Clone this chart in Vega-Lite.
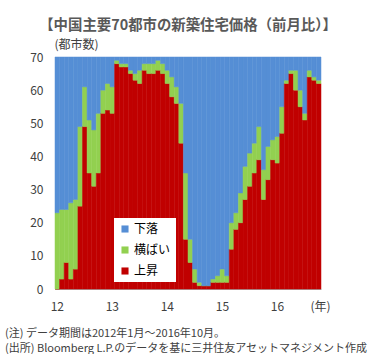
{
  "$schema": "https://vega.github.io/schema/vega-lite/v6.json",
  "autosize": {"type": "pad"},
  "padding": {"left": 5, "top": 17, "right": 0, "bottom": 0},
  "background": "white",
  "config": {"font": "Noto Sans CJK JP", "view": {"stroke": null}, "concat": {"spacing": 0}},
  "title": {
    "text": ["(注) データ期間は2012年1月～2016年10月。", "(出所) Bloomberg L.P.のデータを基に三井住友アセットマネジメント作成"],
    "orient": "bottom", "anchor": "start", "frame": "group", "dx": -50, "offset": 16,
    "fontSize": 11, "fontWeight": "normal", "color": "#404040", "lineHeight": 15
  },
  "vconcat": [
    {
      "width": 266,
      "height": 232,
      "title": {
        "text": "【中国主要70都市の新築住宅価格（前月比）】",
        "anchor": "middle", "frame": "group", "fontSize": 14.4, "fontWeight": "bold",
        "color": "#595959", "offset": 5
      },
      "data": {
        "values": [
          {"month": "2012-01", "上昇": 0, "横ばい": 23, "下落": 47},
          {"month": "2012-02", "上昇": 3, "横ばい": 21, "下落": 46},
          {"month": "2012-03", "上昇": 8, "横ばい": 16, "下落": 46},
          {"month": "2012-04", "上昇": 3, "横ばい": 23, "下落": 44},
          {"month": "2012-05", "上昇": 6, "横ばい": 21, "下落": 43},
          {"month": "2012-06", "上昇": 25, "横ばい": 24, "下落": 21},
          {"month": "2012-07", "上昇": 49, "横ばい": 12, "下落": 9},
          {"month": "2012-08", "上昇": 35, "横ばい": 16, "下落": 19},
          {"month": "2012-09", "上昇": 31, "横ばい": 17, "下落": 22},
          {"month": "2012-10", "上昇": 35, "横ばい": 18, "下落": 17},
          {"month": "2012-11", "上昇": 53, "横ばい": 7, "下落": 10},
          {"month": "2012-12", "上昇": 54, "横ばい": 8, "下落": 8},
          {"month": "2013-01", "上昇": 53, "横ばい": 8, "下落": 9},
          {"month": "2013-02", "上昇": 68, "横ばい": 1, "下落": 1},
          {"month": "2013-03", "上昇": 67, "横ばい": 1, "下落": 2},
          {"month": "2013-04", "上昇": 67, "横ばい": 1, "下落": 2},
          {"month": "2013-05", "上昇": 65, "横ばい": 1, "下落": 4},
          {"month": "2013-06", "上昇": 63, "横ばい": 2, "下落": 5},
          {"month": "2013-07", "上昇": 62, "横ばい": 4, "下落": 4},
          {"month": "2013-08", "上昇": 66, "横ばい": 2, "下落": 2},
          {"month": "2013-09", "上昇": 65, "横ばい": 3, "下落": 2},
          {"month": "2013-10", "上昇": 65, "横ばい": 3, "下落": 2},
          {"month": "2013-11", "上昇": 66, "横ばい": 3, "下落": 1},
          {"month": "2013-12", "上昇": 65, "横ばい": 3, "下落": 2},
          {"month": "2014-01", "上昇": 62, "横ばい": 4, "下落": 4},
          {"month": "2014-02", "上昇": 58, "横ばい": 6, "下落": 6},
          {"month": "2014-03", "上昇": 56, "横ばい": 5, "下落": 9},
          {"month": "2014-04", "上昇": 44, "横ばい": 12, "下落": 14},
          {"month": "2014-05", "上昇": 15, "横ばい": 20, "下落": 35},
          {"month": "2014-06", "上昇": 8, "横ばい": 7, "下落": 55},
          {"month": "2014-07", "上昇": 2, "横ばい": 4, "下落": 64},
          {"month": "2014-08", "上昇": 1, "横ばい": 1, "下落": 68},
          {"month": "2014-09", "上昇": 1, "横ばい": 0, "下落": 69},
          {"month": "2014-10", "上昇": 1, "横ばい": 0, "下落": 69},
          {"month": "2014-11", "上昇": 2, "横ばい": 1, "下落": 67},
          {"month": "2014-12", "上昇": 2, "横ばい": 2, "下落": 66},
          {"month": "2015-01", "上昇": 2, "横ばい": 4, "下落": 64},
          {"month": "2015-02", "上昇": 2, "横ばい": 2, "下落": 66},
          {"month": "2015-03", "上昇": 12, "横ばい": 8, "下落": 50},
          {"month": "2015-04", "上昇": 18, "横ばい": 5, "下落": 47},
          {"month": "2015-05", "上昇": 20, "横ばい": 9, "下落": 41},
          {"month": "2015-06", "上昇": 27, "横ばい": 10, "下落": 33},
          {"month": "2015-07", "上昇": 31, "横ばい": 10, "下落": 29},
          {"month": "2015-08", "上昇": 35, "横ばい": 9, "下落": 26},
          {"month": "2015-09", "上昇": 39, "横ばい": 10, "下落": 21},
          {"month": "2015-10", "上昇": 27, "横ばい": 9, "下落": 34},
          {"month": "2015-11", "上昇": 33, "横ばい": 10, "下落": 27},
          {"month": "2015-12", "上昇": 39, "横ばい": 6, "下落": 25},
          {"month": "2016-01", "上昇": 38, "横ばい": 8, "下落": 24},
          {"month": "2016-02", "上昇": 47, "横ばい": 8, "下落": 15},
          {"month": "2016-03", "上昇": 62, "横ばい": 1, "下落": 7},
          {"month": "2016-04", "上昇": 65, "横ばい": 1, "下落": 4},
          {"month": "2016-05", "上昇": 60, "横ばい": 6, "下落": 4},
          {"month": "2016-06", "上昇": 55, "横ばい": 5, "下落": 10},
          {"month": "2016-07", "上昇": 51, "横ばい": 2, "下落": 17},
          {"month": "2016-08", "上昇": 64, "横ばい": 2, "下落": 4},
          {"month": "2016-09", "上昇": 63, "横ばい": 1, "下落": 6},
          {"month": "2016-10", "上昇": 62, "横ばい": 1, "下落": 7}
        ]
      },
      "transform": [
        {"fold": ["上昇", "横ばい", "下落"], "as": ["cat", "n"]},
        {"calculate": "indexof(['上昇','横ばい','下落'], datum.cat)", "as": "ord"}
      ],
      "mark": {"type": "bar", "strokeWidth": 0.5},
      "encoding": {
        "x": {
          "field": "month", "type": "ordinal",
          "scale": {"paddingInner": 0, "paddingOuter": 0},
          "axis": {
            "values": ["2012-01", "2013-01", "2014-01", "2015-01", "2016-01"],
            "labelExpr": "substring(datum.value, 2, 4)",
            "labelAngle": 0, "ticks": false, "labelPadding": 12,
            "labelFontSize": 12, "labelColor": "#404040", "domainColor": "#A6A6A6",
            "title": "(年)", "titleX": 255, "titleY": 17, "titleAlign": "left",
            "titleBaseline": "middle", "titleFontSize": 12, "titleFontWeight": "normal",
            "titleColor": "#404040"
          }
        },
        "y": {
          "field": "n", "type": "quantitative", "stack": "zero",
          "scale": {"domain": [0, 70], "nice": false},
          "axis": {
            "values": [0, 10, 20, 30, 40, 50, 60, 70],
            "ticks": false, "grid": false, "labelPadding": 12,
            "labelFontSize": 12, "labelColor": "#404040", "domainColor": "#A6A6A6",
            "title": "(都市数)", "titleAngle": 0, "titleAlign": "left", "titleBaseline": "middle",
            "titleX": -1, "titleY": -13, "titleFontSize": 12, "titleFontWeight": "normal",
            "titleColor": "#404040"
          }
        },
        "color": {
          "field": "cat", "type": "nominal",
          "scale": {"domain": ["下落", "横ばい", "上昇"], "range": ["#558ED5", "#92D050", "#C00000"]},
          "legend": {
            "orient": "none", "legendX": 59, "legendY": 161, "title": null,
            "fillColor": "white", "padding": 5, "symbolType": "square", "symbolSize": 50,
            "symbolStrokeWidth": 0, "labelFontSize": 12, "labelColor": "#000000",
            "rowPadding": 9, "labelOffset": 3
          }
        },
        "stroke": {
          "field": "cat", "type": "nominal",
          "scale": {"domain": ["下落", "横ばい", "上昇"], "range": ["#558ED5", "#92D050", "#C00000"]},
          "legend": null
        },
        "order": {"field": "ord", "type": "quantitative", "sort": "ascending"}
      }
    }
  ]
}
